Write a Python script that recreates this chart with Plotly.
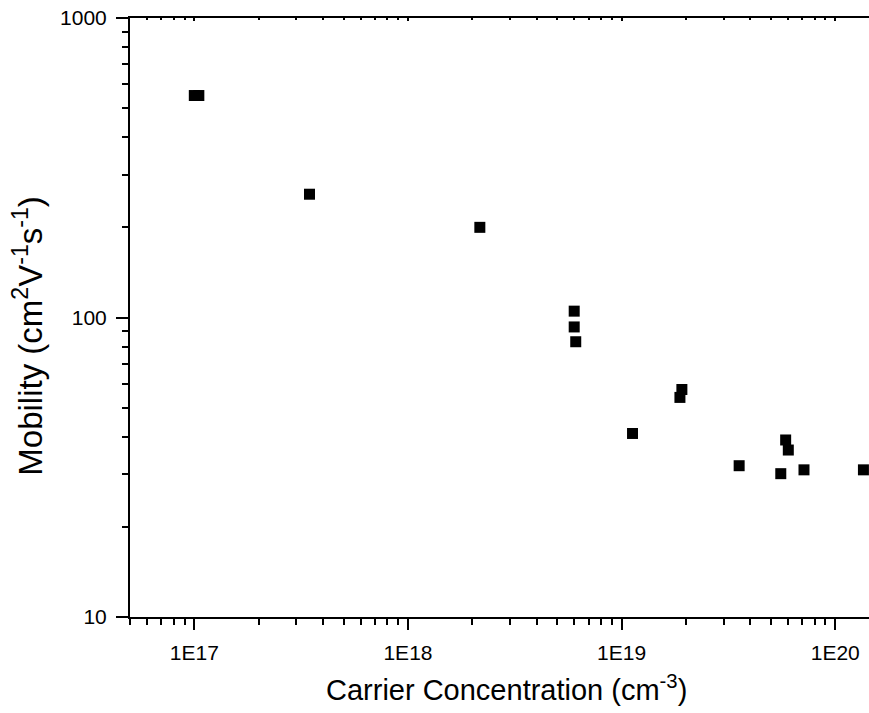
import plotly.graph_objects as go
import numpy as np

# Data
carrier_conc = [1.0e17, 1.05e17, 3.46e17, 2.17e18, 6.0e18, 6.0e18, 6.1e18,
                1.125e19, 1.915e19, 1.875e19, 3.55e19, 5.56e19, 5.86e19,
                6.03e19, 7.14e19, 1.355e20]
mobility = [551, 551, 258, 200, 105, 93, 83, 41, 57.5, 54.1, 32.0, 30.1,
            39.0, 36.1, 31.0, 31.0]

x_tickvals = [1e17, 1e18, 1e19, 1e20]
x_ticktext = ["1E17", "1E18", "1E19", "1E20"]
y_tickvals = [10, 100, 1000]
y_ticktext = ["10", "100", "1000"]
x_title = "Carrier Concentration (cm<sup>-3</sup>)"
y_title = "Mobility (cm<sup>2</sup>V<sup>-1</sup>s<sup>-1</sup>)"

x_minor = [m * 10.0 ** e for e in range(16, 21) for m in range(2, 10)]
x_minor = [v for v in x_minor if 5e16 <= v <= 1.5e20]
y_minor = [m * 10.0 ** e for e in range(1, 3) for m in range(2, 10)]

FONT = "Liberation Sans, Arial, sans-serif"
x_range = [np.log10(5e16), 20.158]

fig = go.Figure()
fig.add_trace(go.Scatter(
    x=carrier_conc, y=mobility, mode="markers",
    marker=dict(symbol="square", size=11, color="black", line=dict(width=0)),
    showlegend=False, cliponaxis=False,
))

fig.update_layout(
    width=869, height=713,
    margin=dict(l=130, r=0, t=18, b=96),
    paper_bgcolor="white", plot_bgcolor="white",
    font=dict(family=FONT, color="black"),
    xaxis=dict(
        type="log", range=x_range,
        tickmode="array", tickvals=x_tickvals, ticktext=x_ticktext,
        ticks="outside", ticklen=11, tickwidth=2, tickcolor="black",
        showline=True, linewidth=2, linecolor="black",
        showgrid=False, zeroline=False,
        tickfont=dict(size=21, family=FONT), ticklabelstandoff=5,
        minor=dict(tickmode="array", tickvals=x_minor, ticks="outside",
                   ticklen=6, tickwidth=2, tickcolor="black", showgrid=False),
    ),
    xaxis2=dict(
        type="log", range=x_range, overlaying="x", side="top", anchor="y",
        tickmode="array", tickvals=x_tickvals, ticks="inside", ticklen=3,
        tickwidth=1.5, tickcolor="black", showticklabels=False,
        showline=True, linewidth=2, linecolor="black", showgrid=False,
        minor=dict(tickmode="array", tickvals=x_minor, ticks="inside",
                   ticklen=2, tickwidth=1.5, tickcolor="black", showgrid=False),
    ),
    yaxis=dict(
        type="log", range=[1, 3],
        tickmode="array", tickvals=y_tickvals, ticktext=y_ticktext,
        ticks="outside", ticklen=12, tickwidth=2, tickcolor="black",
        showline=True, linewidth=2, linecolor="black",
        showgrid=False, zeroline=False,
        tickfont=dict(size=21, family=FONT), ticklabelstandoff=5,
        minor=dict(tickmode="array", tickvals=y_minor, ticks="outside",
                   ticklen=6, tickwidth=2, tickcolor="black", showgrid=False),
    ),
    annotations=[
        dict(text=x_title, xref="paper", yref="paper", x=0.510, y=-0.1185,
             xanchor="center", yanchor="middle", showarrow=False,
             font=dict(size=29, family=FONT)),
        dict(text=y_title, xref="paper", yref="paper", x=-0.138, y=0.468,
             xanchor="center", yanchor="middle", showarrow=False,
             textangle=-90, font=dict(size=33, family=FONT)),
    ],
)
# invisible trace to make the top axis render
fig.add_trace(go.Scatter(x=[1e18], y=[100], xaxis="x2", mode="markers",
                         marker=dict(opacity=0), showlegend=False,
                         hoverinfo="skip"))

fig.write_html("out.html")
